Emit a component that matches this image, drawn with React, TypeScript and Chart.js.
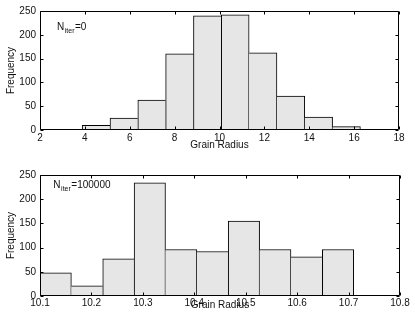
import React, { useEffect, useRef } from "react";
import { Chart, registerables } from "chart.js";

Chart.register(...registerables);

// ---- data ----
const topBinEdges = [3.88, 5.12, 6.36, 7.6, 8.84, 10.08, 11.32, 12.56, 13.8, 15.04, 16.28];
const topCounts = [10, 25, 63, 160, 240, 242, 162, 71, 27, 7];
const topXTicks = [2, 4, 6, 8, 10, 12, 14, 16, 18];

const bottomBinEdges = [10.1, 10.161, 10.222, 10.283, 10.344, 10.405, 10.466, 10.527, 10.588, 10.649, 10.71];
const bottomCounts = [48, 21, 77, 234, 96, 92, 155, 96, 81, 96];
const bottomXTicks = [10.1, 10.2, 10.3, 10.4, 10.5, 10.6, 10.7, 10.8];

const yTicks = [0, 50, 100, 150, 200, 250];

const xAxisTitle = "Grain Radius";
const yAxisTitle = "Frequency";
const topNote = ["N", "iter", "=0"];
const bottomNote = ["N", "iter", "=100000"];

const FONT = "'Liberation Sans', Arial, sans-serif";
const TEXT = "#111";

type Panel = {
  edges: number[];
  counts: number[];
  xTicks: number[];
  decimals: number;
  note: string[];
  noteAt: [number, number];
  pad: { top: number; right: number };
  yWidth: number;
  xHeight: number;
  tickPad: number;
  xTitlePadBottom: number;
};

const panels: Panel[] = [
  {
    edges: topBinEdges,
    counts: topCounts,
    xTicks: topXTicks,
    decimals: 0,
    note: topNote,
    noteAt: [2.76, 210],
    pad: { top: 11, right: 16 },
    yWidth: 40,
    xHeight: 29,
    tickPad: 2,
    xTitlePadBottom: 7.5,
  },
  {
    edges: bottomBinEdges,
    counts: bottomCounts,
    xTicks: bottomXTicks,
    decimals: 1,
    note: bottomNote,
    noteAt: [10.126, 224],
    pad: { top: 16, right: 15 },
    yWidth: 40,
    xHeight: 22,
    tickPad: 1,
    xTitlePadBottom: 6.5,
  },
];

const framePlugin = {
  id: "frameTicks",
  afterDatasetsDraw(chart: any) {
    const { ctx, chartArea: a, scales } = chart;
    const xs = scales.x;
    const ys = scales.y;
    ctx.save();
    ctx.strokeStyle = "#000";
    ctx.lineWidth = 1;
    const L = Math.round(a.left) + 0.5;
    const R = Math.round(a.right) - 0.5;
    const T = Math.round(a.top) + 0.5;
    const B = Math.round(a.bottom) - 0.5;
    ctx.beginPath();
    ctx.rect(L, T, R - L, B - T);
    const tl = 3;
    for (const t of xs.ticks) {
      const px = Math.round(xs.getPixelForValue(t.value)) + 0.5;
      ctx.moveTo(px, B);
      ctx.lineTo(px, B - tl);
      ctx.moveTo(px, T);
      ctx.lineTo(px, T + tl);
    }
    for (const t of ys.ticks) {
      const py = Math.round(ys.getPixelForValue(t.value)) + 0.5;
      ctx.moveTo(L, py);
      ctx.lineTo(L + tl, py);
      ctx.moveTo(R, py);
      ctx.lineTo(R - tl, py);
    }
    ctx.stroke();

    const note: string[] = chart.options.plugins.frameTicks.note;
    const at: [number, number] = chart.options.plugins.frameTicks.at;
    let x = xs.getPixelForValue(at[0]);
    const y = ys.getPixelForValue(at[1]);
    ctx.fillStyle = TEXT;
    ctx.textBaseline = "alphabetic";
    ctx.textAlign = "left";
    ctx.font = `10px ${FONT}`;
    ctx.fillText(note[0], x, y);
    x += ctx.measureText(note[0]).width + 0.5;
    ctx.font = `7px ${FONT}`;
    ctx.fillText(note[1], x, y + 3);
    x += ctx.measureText(note[1]).width + 0.5;
    ctx.font = `10px ${FONT}`;
    ctx.fillText(note[2], x, y);
    ctx.restore();
  },
};

function HistPanel({ p, top }: { p: Panel; top: number }) {
  const ref = useRef<HTMLCanvasElement>(null);
  useEffect(() => {
    if (!ref.current) return;
    const n = p.counts.length;
    const points = p.counts.map((c, i) => ({ x: (p.edges[i] + p.edges[i + 1]) / 2, y: c }));
    const border = (ctx: any) => {
      const i = ctx.dataIndex;
      if (i === undefined) return 1;
      const h = p.counts[i];
      const prev = i > 0 ? p.counts[i - 1] : -1;
      const next = i < n - 1 ? p.counts[i + 1] : -1;
      return { top: 1, left: h >= prev ? 1 : 0, right: h > next ? 1 : 0, bottom: 0 };
    };
    const chart = new Chart(ref.current, {
      type: "bar",
      data: {
        datasets: [
          {
            data: points as any,
            backgroundColor: "#e6e6e6",
            borderColor: "#000",
            borderWidth: border as any,
            borderSkipped: "start",
            barPercentage: 1,
            categoryPercentage: 1,
          },
        ],
      },
      options: {
        animation: false,
        responsive: false,
        maintainAspectRatio: false,
        devicePixelRatio: 1,
        layout: { padding: { left: 0, right: p.pad.right, top: p.pad.top, bottom: 0 } },
        plugins: {
          legend: { display: false },
          tooltip: { enabled: false },
          frameTicks: { note: p.note, at: p.noteAt },
        } as any,
        scales: {
          x: {
            type: "linear",
            min: p.xTicks[0],
            max: p.xTicks[p.xTicks.length - 1],
            offset: false,
            grid: { display: false, drawTicks: false, offset: false },
            border: { display: false },
            afterBuildTicks: (s: any) => {
              s.ticks = p.xTicks.map((v) => ({ value: v }));
            },
            afterFit: (s: any) => {
              s.height = p.xHeight;
            },
            ticks: {
              padding: p.tickPad,
              color: TEXT,
              font: { family: FONT, size: 10 },
              maxRotation: 0,
              autoSkip: false,
              callback: (v: any) => Number(v).toFixed(p.decimals),
            },
            title: {
              display: true,
              text: xAxisTitle,
              color: TEXT,
              font: { family: FONT, size: 10 },
              padding: { top: 0, bottom: p.xTitlePadBottom },
            },
          },
          y: {
            type: "linear",
            min: yTicks[0],
            max: yTicks[yTicks.length - 1],
            grid: { display: false, drawTicks: false },
            border: { display: false },
            afterBuildTicks: (s: any) => {
              s.ticks = yTicks.map((v) => ({ value: v }));
            },
            afterFit: (s: any) => {
              s.width = p.yWidth;
            },
            ticks: {
              padding: 4,
              color: TEXT,
              font: { family: FONT, size: 10 },
              autoSkip: false,
            },
            title: {
              display: true,
              text: yAxisTitle,
              color: TEXT,
              font: { family: FONT, size: 10 },
              padding: { top: 5.7, bottom: 0 },
            },
          },
        },
      },
      plugins: [framePlugin],
    });
    return () => chart.destroy();
  }, [p]);
  return (
    <canvas
      ref={ref}
      width={415}
      height={159}
      style={{ position: "absolute", left: 0, top, width: 415, height: 159 }}
    />
  );
}

export default function App() {
  return (
    <div style={{ position: "fixed", left: 0, top: 0, width: 415, height: 318, background: "#fff" }}>
      <HistPanel p={panels[0]} top={0} />
      <HistPanel p={panels[1]} top={159} />
    </div>
  );
}
